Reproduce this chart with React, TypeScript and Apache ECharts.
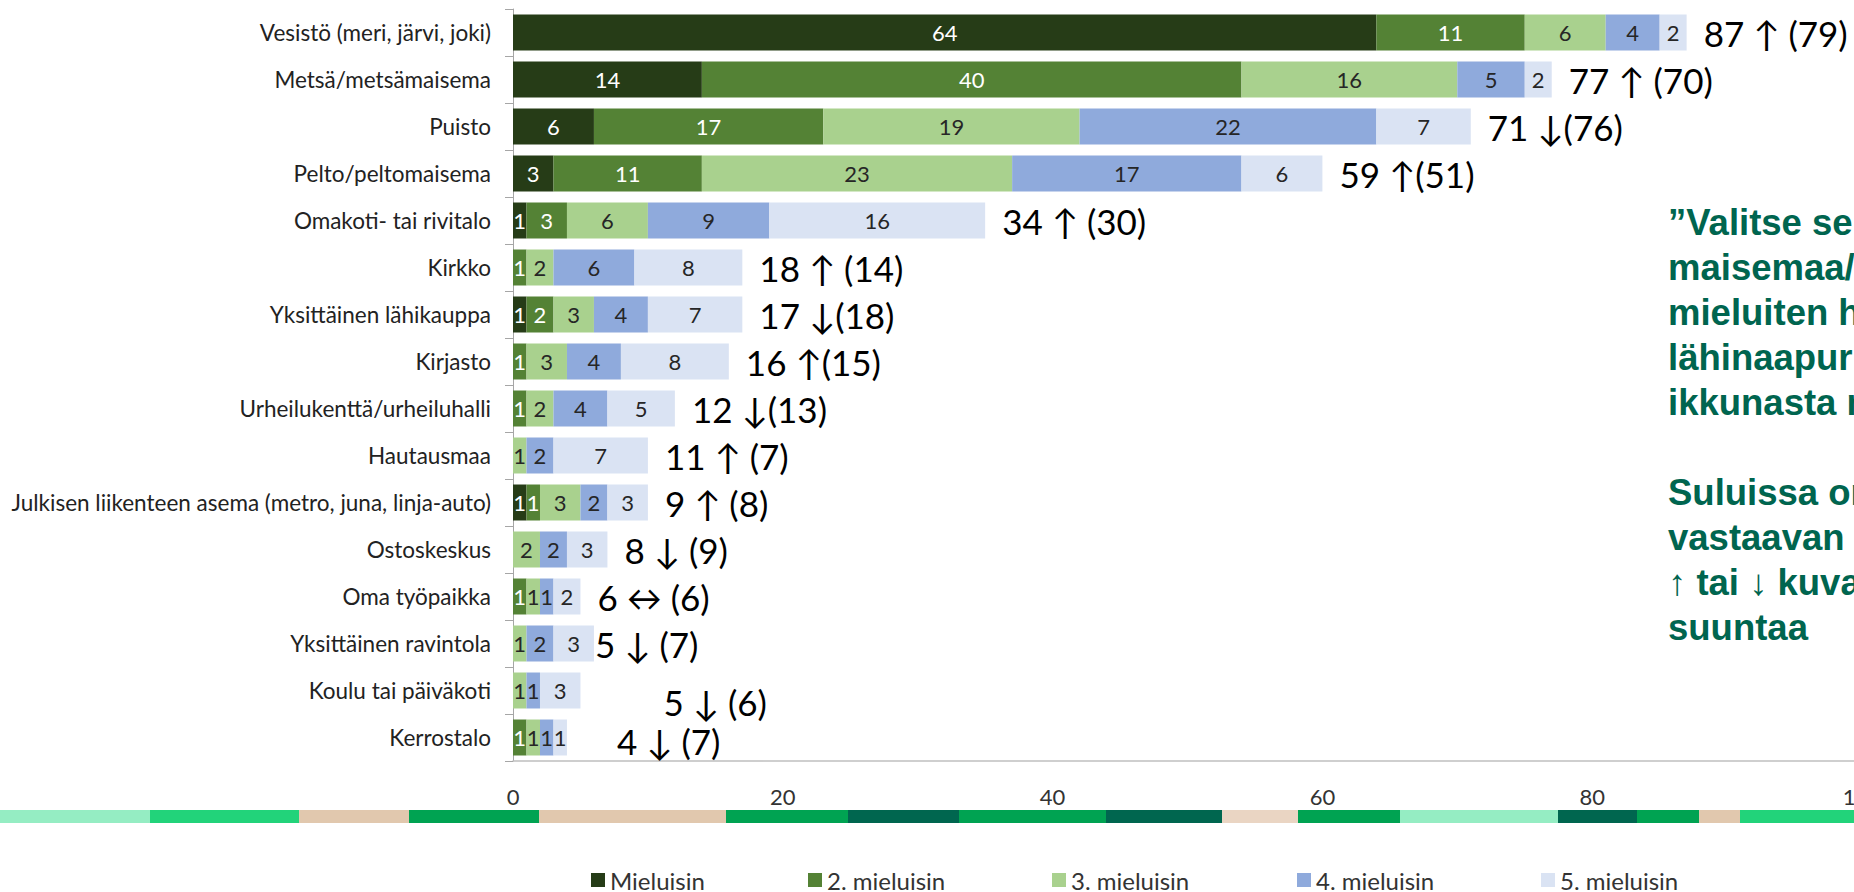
import React, { useEffect, useRef } from "react";
import * as echarts from "echarts";

const categories = [
  "Vesistö (meri, järvi, joki)",
  "Metsä/metsämaisema",
  "Puisto",
  "Pelto/peltomaisema",
  "Omakoti- tai rivitalo",
  "Kirkko",
  "Yksittäinen lähikauppa",
  "Kirjasto",
  "Urheilukenttä/urheiluhalli",
  "Hautausmaa",
  "Julkisen liikenteen asema (metro, juna, linja-auto)",
  "Ostoskeskus",
  "Oma työpaikka",
  "Yksittäinen ravintola",
  "Koulu tai päiväkoti",
  "Kerrostalo",
];

const seriesNames = ["Mieluisin", "2. mieluisin", "3. mieluisin", "4. mieluisin", "5. mieluisin"];

const mieluisin = [64, 14, 6, 3, 1, 0, 1, 0, 0, 0, 1, 0, 0, 0, 0, 0];
const toinen = [11, 40, 17, 11, 3, 1, 2, 1, 1, 0, 1, 0, 1, 0, 0, 1];
const kolmas = [6, 16, 19, 23, 6, 2, 3, 3, 2, 1, 3, 2, 1, 1, 1, 1];
const neljas = [4, 5, 22, 17, 9, 6, 4, 4, 4, 2, 2, 2, 1, 2, 1, 1];
const viides = [2, 2, 7, 6, 16, 8, 7, 8, 5, 7, 3, 3, 2, 3, 3, 1];

const totalLabels = [
  "87 ↑ (79)",
  "77 ↑ (70)",
  "71 ↓(76)",
  "59 ↑(51)",
  "34 ↑ (30)",
  "18 ↑ (14)",
  "17 ↓(18)",
  "16 ↑(15)",
  "12 ↓(13)",
  "11 ↑ (7)",
  "9 ↑ (8)",
  "8 ↓ (9)",
  "6 ↔ (6)",
  "5 ↓ (7)",
  "5 ↓ (6)",
  "4 ↓ (7)",
];

const xTicks = { min: 0, max: 100, interval: 20 };

const noteLines = [
  "”Valitse seuraavista",
  "maisemaa/rakennusta",
  "mieluiten haluaisit",
  "lähinaapuriksi tai",
  "ikkunasta näkyviin”",
  "",
  "Suluissa on vuoden",
  "vastaavan tulos",
  "↑ tai ↓ kuvaa muutoksen",
  "suuntaa",
];

// decorative stripe (slide decoration)
const stripe: [number, number, string][] = [
  [0, 150, "#95EDC3"],
  [150, 299, "#22D37A"],
  [299, 409, "#E1C8AE"],
  [409, 539, "#00A352"],
  [539, 726, "#E1C8AE"],
  [726, 848, "#00A352"],
  [848, 959, "#00664F"],
  [959, 1106, "#00A352"],
  [1106, 1222, "#00664F"],
  [1222, 1298, "#EAD5C3"],
  [1298, 1400, "#00A352"],
  [1400, 1558, "#95EDC3"],
  [1558, 1637, "#00664F"],
  [1637, 1699, "#00A352"],
  [1699, 1740, "#E1C8AE"],
  [1740, 1854, "#22D37A"],
];

const colors = ["#263C17", "#548235", "#A9D18E", "#8FAADC", "#DAE3F3"];
const labelColors = ["#ffffff", "#ffffff", "#262626", "#262626", "#262626"];

const FONT = "Lato";

export default function App() {
  const ref = useRef<HTMLDivElement>(null);

  useEffect(() => {
    if (!ref.current) return;
    const chart = echarts.init(ref.current, null, { renderer: "svg" });
    const values = [mieluisin, toinen, kolmas, neljas, viides];

    const nudges: Record<number, [number, number]> = {
      13: [-16, 0],
      14: [66, 11],
      15: [33, 3],
    };

    const series: any[] = values.map((vals, i) => ({
      name: seriesNames[i],
      type: "bar",
      stack: "total",
      barWidth: 36,
      data: vals,
      itemStyle: { color: colors[i] },
      label: {
        show: true,
        position: "inside",
        color: labelColors[i],
        fontFamily: FONT,
        fontSize: 22,
        formatter: (p: any) => (p.value > 0 ? String(p.value) : ""),
      },
    }));

    series.push({
      name: "summa",
      type: "bar",
      stack: "total",
      barWidth: 36,
      silent: true,
      itemStyle: { color: "transparent" },
      data: totalLabels.map((_, i) => ({
        value: 0,
        label: nudges[i] ? { offset: nudges[i] } : undefined,
      })),
      label: {
        show: true,
        position: "right",
        distance: 17,
        color: "#000000",
        fontFamily: FONT,
        fontSize: 35,
        formatter: (p: any) => totalLabels[p.dataIndex],
      },
    });

    const graphics: any[] = stripe.map(([x0, x1, c]) => ({
      type: "rect",
      shape: { x: x0, y: 810, width: x1 - x0, height: 13 },
      style: { fill: c },
      silent: true,
    }));
    graphics.push({
      type: "text",
      x: 1668,
      y: 200,
      style: {
        text: noteLines.join("\n"),
        fill: "#00654F",
        font: "bold 36.5px 'Liberation Sans', Arial, sans-serif",
        lineHeight: 45,
        verticalAlign: "top",
        align: "left",
      },
      silent: true,
    });

    const legendLefts = [591, 808, 1052, 1297, 1541];
    const legends = seriesNames.map((n, i) => ({
      data: [n],
      left: legendLefts[i],
      top: 866,
      icon: "rect",
      itemWidth: 14,
      itemHeight: 14,
      padding: 0,
      textStyle: { fontFamily: FONT, fontSize: 24, color: "#333333", lineHeight: 28 },
    }));

    chart.setOption({
      animation: false,
      backgroundColor: "#ffffff",
      grid: { left: 513, right: -8, top: 9, bottom: 131, containLabel: false, outerBoundsMode: "none" },
      legend: legends,
      xAxis: {
        type: "value",
        min: xTicks.min,
        max: xTicks.max,
        interval: xTicks.interval,
        axisLine: { show: true, lineStyle: { color: "#bfbfbf", width: 1.5 } },
        axisTick: { show: false },
        splitLine: { show: false },
        axisLabel: { fontFamily: FONT, fontSize: 22, color: "#333333", margin: 24, alignMaxLabel: "center" },
      },
      yAxis: {
        type: "category",
        inverse: true,
        data: categories,
        axisLine: { show: true, lineStyle: { color: "#a6a6a6", width: 1 } },
        axisTick: { show: true, length: 8, lineStyle: { color: "#a6a6a6" } },
        axisLabel: { fontFamily: FONT, fontSize: 22.5, color: "#222222", margin: 22 },
      },
      series,
      graphic: graphics,
    });
    return () => chart.dispose();
  }, []);

  return (
    <div
      ref={ref}
      style={{ position: "fixed", left: 0, top: 0, width: 1854, height: 892, overflow: "hidden" }}
    />
  );
}
